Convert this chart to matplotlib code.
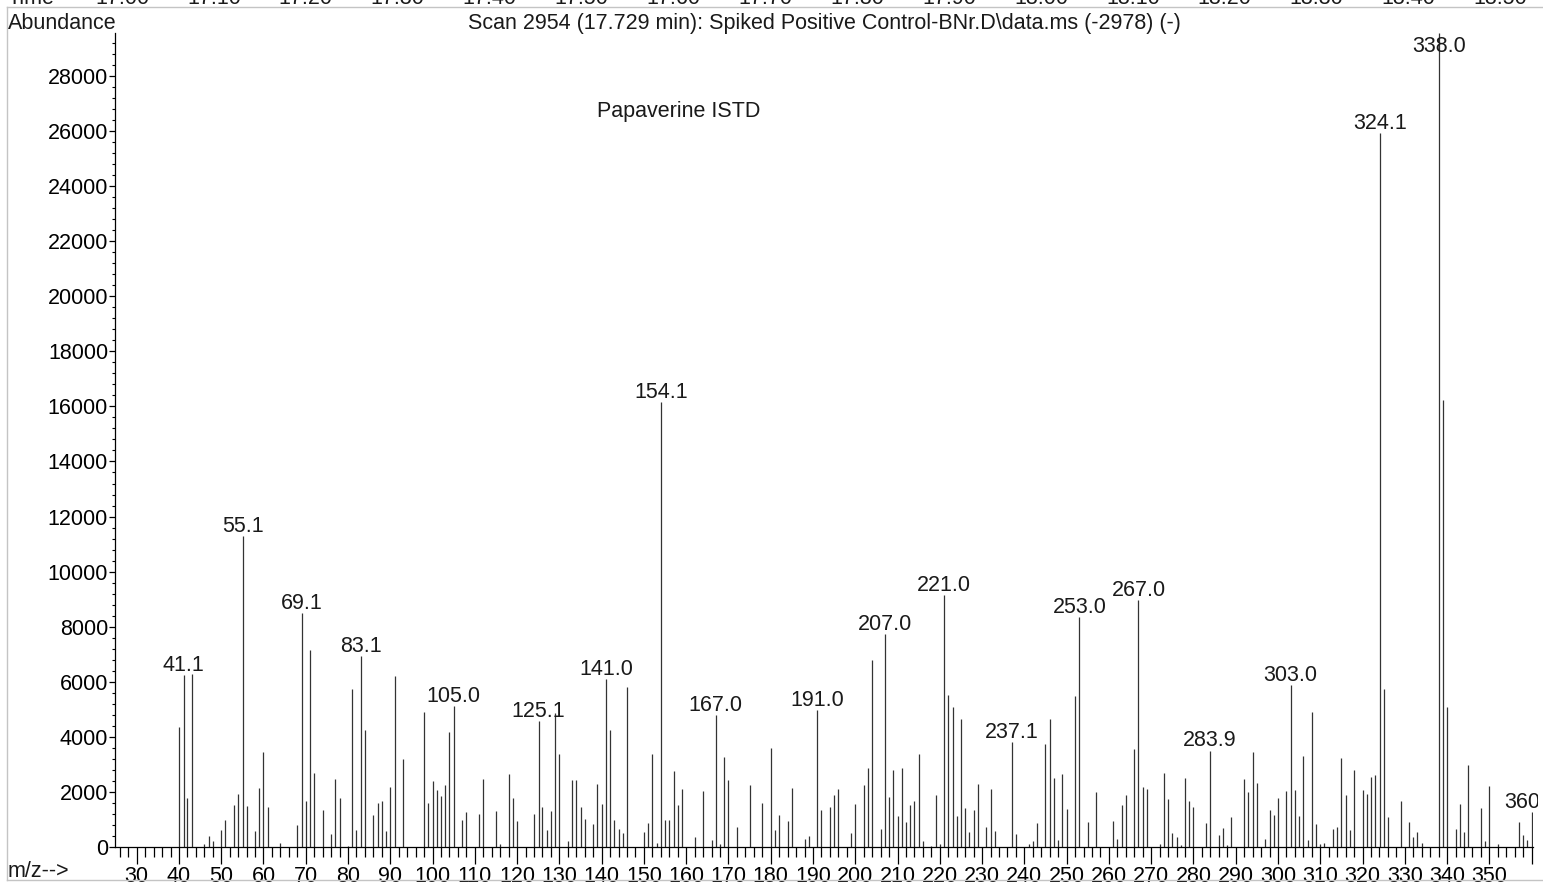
import matplotlib
matplotlib.use('Agg')
import matplotlib.pyplot as plt
from matplotlib.lines import Line2D
from matplotlib.ticker import MultipleLocator, FixedLocator
from matplotlib.transforms import Bbox, TransformedBbox

plt.rcParams['font.family'] = ['Liberation Sans', 'DejaVu Sans']

# spectrum (m/z, abundance)
mz = [40, 41.1, 42, 43, 46, 47, 48, 50, 51, 53, 54, 55.1, 56, 58, 59, 60, 61, 64,
      68, 69.1, 70, 71, 72, 74, 76, 77, 78, 80, 81, 82, 83.1, 84, 86, 87, 88, 89,
      90, 91, 93, 98, 99, 100, 101, 102, 103, 104, 105.0, 107, 108, 111, 112, 115,
      116, 118, 119, 120, 124, 125.1, 126, 127, 128, 129, 130, 132, 133, 134, 135,
      136, 138, 139, 140, 141.0, 142, 143, 144, 145, 146, 150, 151, 152, 153, 154.1,
      155, 156, 157, 158, 159, 162, 164, 166, 167.0, 168, 169, 170, 172, 175, 178,
      180, 181, 182, 184, 185, 188, 189, 191.0, 192, 194, 195, 196, 199, 200, 202,
      203, 204, 206, 207.0, 208, 209, 210, 211, 212, 213, 214, 215, 216, 218, 219,
      220, 221.0, 222, 223, 224, 225, 226, 227, 228, 229, 231, 232, 233, 237.1, 238,
      241, 242, 243, 245, 246, 247, 248, 249, 250, 252, 253.0, 255, 257, 261, 262,
      263, 264, 266, 267.0, 268, 269, 272, 273, 274, 275, 276, 277, 278, 279, 280,
      283, 283.9, 286, 287, 288, 289, 292, 293, 294, 295, 297, 298, 299, 300, 302,
      303.0, 304, 305, 306, 307, 308, 309, 310, 311, 313, 314, 315, 316, 317, 318,
      320, 321, 322, 323, 324.1, 325, 326, 329, 331, 332, 333, 334, 338.0, 339, 340,
      342, 343, 344, 345, 348, 349, 350, 352, 357, 358, 359, 360]
abundance = [4350, 6250, 1770, 6270, 110, 390, 210, 600, 980, 1530, 1930, 11300, 1490, 590, 2140, 3440, 1440, 130,
             790, 8500, 1660, 7140, 2700, 1340, 480, 2480, 1780, 30, 5730, 600, 6940, 4250, 1160, 1600, 1670, 570,
             2180, 6200, 3190, 4900, 1610, 2400, 2070, 1860, 2240, 4180, 5120, 970, 1260, 1210, 2470, 1310,
             110, 2640, 1770, 930, 1210, 4560, 1460, 630, 1300, 4850, 3380, 220, 2420, 2420, 1460,
             1030, 850, 2290, 1560, 6100, 4250, 970, 670, 520, 5800, 560, 870, 3380, 130, 16160,
             980, 980, 2760, 1530, 2120, 360, 2050, 250, 4780, 110, 3270, 2430, 730, 2250, 1600,
             3600, 610, 1150, 940, 2140, 290, 400, 4960, 1360, 1440, 1880, 2120, 520, 1560, 2250,
             2870, 6780, 650, 7740, 1830, 2800, 1130, 2870, 910, 1530, 1680, 3380, 210, 40, 1890,
             120, 9150, 5510, 5070, 1130, 4660, 1420, 540, 1330, 2290, 730, 2110, 590, 3800, 460,
             110, 210, 870, 3730, 4650, 2510, 250, 2640, 1380, 5470, 8350, 920, 1990, 940, 300,
             1540, 1900, 3560, 8970, 2190, 2110, 100, 2680, 1730, 520, 360, 80, 2510, 1670, 1450,
             870, 3500, 440, 700, 70, 1100, 2480, 2000, 3440, 2310, 280, 1330, 1150, 1780, 2030,
             5870, 2060, 1130, 3320, 240, 4900, 840, 100, 130, 640, 710, 3230, 1890, 620, 2800,
             2080, 1910, 2550, 2620, 25940, 5750, 1080, 1680, 900, 360, 540, 150, 29560, 16230, 5080,
             670, 1550, 530, 2970, 1400, 220, 2220, 110, 900, 450, 260, 1280]

peak_mz = [41.1, 55.1, 69.1, 83.1, 105.0, 125.1, 141.0, 154.1, 167.0, 191.0, 207.0,
           221.0, 237.1, 253.0, 267.0, 283.9, 303.0, 324.1, 338.0, 360]
peak_labels = ['41.1', '55.1', '69.1', '83.1', '105.0', '125.1', '141.0', '154.1', '167.0',
               '191.0', '207.0', '221.0', '237.1', '253.0', '267.0', '283.9', '303.0',
               '324.1', '338.0', '360.0']

time_labels = ['Time', '17.00', '17.10', '17.20', '17.30', '17.40', '17.50', '17.60', '17.70',
               '17.80', '17.90', '18.00', '18.10', '18.20', '18.30', '18.40', '18.50']

title = r'Scan 2954 (17.729 min): Spiked Positive Control-BNr.D\data.ms (-2978) (-)'

W, H = 1543, 888
FS = 15.5

fig = plt.figure(figsize=(W / 100, H / 100), dpi=100)
ax = fig.add_axes([115 / W, 1 - 847 / H, (1533 - 115) / W, (847 - 33) / H])

ax.vlines(mz, 0, abundance, color='#333333', lw=0.9)

ax.set_xlim(24.87, 360.33)
ax.set_ylim(0, 29560)

for s in ['top', 'right']:
    ax.spines[s].set_visible(False)
for s in ['left', 'bottom']:
    ax.spines[s].set_linewidth(0.9)

# x axis: major every 10, minor every 2
ax.xaxis.set_major_locator(FixedLocator(list(range(30, 361, 10))))
ax.set_xticklabels([str(v) if v <= 350 else '' for v in range(30, 361, 10)])
ax.xaxis.set_minor_locator(MultipleLocator(2))
ax.tick_params(axis='x', which='major', length=12, width=0.9, labelsize=FS, pad=2)
ax.tick_params(axis='x', which='minor', length=7, width=0.9)

# y axis
ax.yaxis.set_major_locator(MultipleLocator(2000))
ax.yaxis.set_minor_locator(MultipleLocator(400))
ax.tick_params(axis='y', which='major', length=4, width=0.9, labelsize=FS, pad=1)
ax.tick_params(axis='y', which='minor', length=2.5, width=0.8)

# peak labels (clamped near the top like the instrument software)
clip = TransformedBbox(Bbox([[115 / W, 0], [1538 / W, 1]]), fig.transFigure)
for x, lbl in zip(peak_mz, peak_labels):
    y = abundance[mz.index(x)]
    t = ax.annotate(lbl, (x, min(y, 28730)), xytext=(0, 3), textcoords='offset points',
                    ha='center', va='baseline', fontsize=FS, color='#1a1a1a',
                    annotation_clip=False)
    t.set_clip_on(True)
    t.set_clip_box(clip)

ax.text(158.3, 26500, 'Papaverine ISTD', ha='center', va='baseline', fontsize=FS, color='#1a1a1a')

fig.text(8 / W, 1 - 29 / H, 'Abundance', ha='left', va='baseline', fontsize=FS, color='#1a1a1a')
fig.text(824 / W, 1 - 29 / H, title, ha='center', va='baseline', fontsize=FS, color='#1a1a1a')
fig.text(8 / W, 1 - 877 / H, 'm/z-->', ha='left', va='baseline', fontsize=FS, color='#1a1a1a')

# time axis strip, cut off at the top of the picture
fig.text(8 / W, 1 - 4 / H, time_labels[0], ha='left', va='baseline', fontsize=FS, color='#1a1a1a')
for i, lbl in enumerate(time_labels[1:]):
    fig.text((122 + 91.9 * i) / W, 1 - 4 / H, lbl, ha='center', va='baseline',
             fontsize=FS, color='#1a1a1a')

# light grey frame
grey = '#c4c4c4'
fig.add_artist(Line2D([7 / W, 1], [1 - 7 / H, 1 - 7 / H], color=grey, lw=1))
fig.add_artist(Line2D([7 / W, 7 / W], [1 - 7 / H, 1 - 880 / H], color=grey, lw=1))
fig.add_artist(Line2D([7 / W, 1], [1 - 880 / H, 1 - 880 / H], color=grey, lw=1))

fig.savefig('out.png', dpi=100)
plt.close()
